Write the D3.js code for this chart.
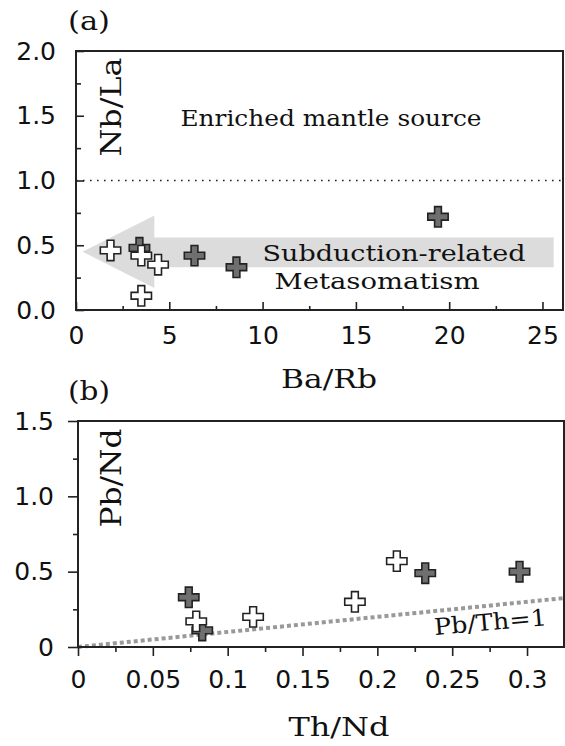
<!DOCTYPE html>
<html>
<head>
<meta charset="utf-8">
<script src="https://cdn.jsdelivr.net/npm/d3@7"></script>
<style>
  body { margin: 0; background: #fff; }
  svg { display: block; }
  .tick text { font-family: "DejaVu Sans", sans-serif; font-size: 25px; fill: #111; }
  .lab { font-family: "DejaVu Serif", serif; fill: #111; }
</style>
</head>
<body>
<div id="chart"></div>
<script>
// panel (a): Ba/Rb vs Nb/La
var baRbOpen = [1.85, 3.5, 4.4, 3.5];
var nbLaOpen = [0.46, 0.42, 0.35, 0.11];
var baRbDark = [3.4, 6.35, 8.6, 19.4];
var nbLaDark = [0.48, 0.42, 0.33, 0.72];
var aXTicks = [0, 5, 10, 15, 20, 25];
var aYTicks = [0, 0.5, 1, 1.5, 2];
var aYLabels = ['0.0', '0.5', '1.0', '1.5', '2.0'];
// shaded arrow, in data units
var arrowX = [0.35, 4.2, 4.2, 25.6, 25.6, 4.2, 4.2];
var arrowY = [0.45, 0.73, 0.56, 0.56, 0.33, 0.33, 0.17];

// panel (b): Th/Nd vs Pb/Nd
var thNdOpen = [0.079, 0.117, 0.185, 0.213];
var pbNdOpen = [0.17, 0.20, 0.30, 0.57];
var thNdDark = [0.074, 0.083, 0.232, 0.295];
var pbNdDark = [0.33, 0.11, 0.49, 0.50];
var bXTicks = [0, 0.05, 0.1, 0.15, 0.2, 0.25, 0.3];
var bXLabels = ['0', '0.05', '0.1', '0.15', '0.2', '0.25', '0.3'];
var bYTicks = [0, 0.5, 1, 1.5];
var bYLabels = ['0', '0.5', '1.0', '1.5'];

var w = 565, h = 746;
var svg = d3.select('#chart').append('svg')
    .attr('width', w)
    .attr('height', h);

var cross = d3.symbol().type(d3.symbolCross).size(230);

function label(g, txt, x, y, size, len, rot) {
  var t = g.append('text')
      .attr('class', 'lab')
      .attr('font-size', size)
      .attr('text-anchor', 'middle')
      .text(txt);
  if (len) t.attr('textLength', len).attr('lengthAdjust', 'spacingAndGlyphs');
  if (rot) t.attr('transform', 'translate(' + x + ',' + y + ') rotate(' + rot + ')');
  else t.attr('x', x).attr('y', y);
  return t;
}

function drawPoints(g, x, y, xs, ys, fill) {
  g.append('g').selectAll('path')
    .data(xs)
    .enter()
    .append('path')
    .attr('d', cross)
    .attr('transform', function(d, i) { return 'translate(' + x(d) + ',' + y(ys[i]) + ')'; })
    .attr('fill', fill)
    .attr('stroke', '#222')
    .attr('stroke-width', 1.6);
}

function styleAxis(g) {
  g.select('.domain').remove();
  g.selectAll('.tick line').attr('stroke', '#222').attr('stroke-width', 1.6);
}

// ---------- panel (a) ----------
var ga = svg.append('g');
var xa = d3.scaleLinear().domain([0, 26.1]).range([76, 563]);
var ya = d3.scaleLinear().domain([0, 2]).range([310, 51]);

ga.append('path')
  .datum(arrowX)
  .attr('d', d3.line().x(function(d) { return xa(d); }).y(function(d, i) { return ya(arrowY[i]); }).curve(d3.curveLinearClosed))
  .attr('fill', '#dcdcdc');

ga.append('line')
  .attr('x1', xa(0)).attr('x2', xa(26.1))
  .attr('y1', ya(1)).attr('y2', ya(1))
  .attr('stroke', '#222').attr('stroke-width', 1.6)
  .attr('stroke-dasharray', '1.6,5.4');

ga.append('g').attr('transform', 'translate(0,310)')
  .call(d3.axisBottom(xa).tickValues(aXTicks).tickSize(-8).tickPadding(16).tickFormat(d3.format('d')))
  .call(styleAxis);
ga.append('g').attr('transform', 'translate(0,310)')
  .call(d3.axisBottom(xa).tickValues([2.5, 7.5, 12.5, 17.5, 22.5]).tickSize(-4).tickFormat(''))
  .call(styleAxis);
ga.append('g').attr('transform', 'translate(76,0)')
  .call(d3.axisLeft(ya).tickValues(aYTicks).tickSize(-8).tickPadding(20).tickFormat(function(d, i) { return aYLabels[i]; }))
  .call(styleAxis);
ga.append('g').attr('transform', 'translate(76,0)')
  .call(d3.axisLeft(ya).tickValues([0.25, 0.75, 1.25, 1.75]).tickSize(-5).tickFormat(''))
  .call(styleAxis);

ga.append('rect')
  .attr('x', 76).attr('y', 51).attr('width', 487).attr('height', 259)
  .attr('fill', 'none').attr('stroke', '#222').attr('stroke-width', 2);

drawPoints(ga, xa, ya, baRbDark, nbLaDark, '#6f6f6f');
drawPoints(ga, xa, ya, baRbOpen, nbLaOpen, '#fff');

label(ga, '(a)', 89, 30, 26, 42);
label(ga, 'Nb/La', 121, 107, 27, 99, -90);
label(ga, 'Enriched mantle source', 331, 126, 23, 301);
label(ga, 'Subduction-related', 394, 261, 23, 263);
label(ga, 'Metasomatism', 377, 289, 23, 205);
label(ga, 'Ba/Rb', 329, 388, 26, 96);

// ---------- panel (b) ----------
var gb = svg.append('g');
var xb = d3.scaleLinear().domain([0, 0.3247]).range([78, 564]);
var yb = d3.scaleLinear().domain([0, 1.5]).range([647, 421]);

gb.append('line')
  .attr('x1', xb(0)).attr('y1', yb(0))
  .attr('x2', xb(0.3247)).attr('y2', yb(0.3247))
  .attr('stroke', '#999').attr('stroke-width', 4)
  .attr('stroke-dasharray', '4,3');

gb.append('g').attr('transform', 'translate(0,647)')
  .call(d3.axisBottom(xb).tickValues(bXTicks).tickSize(9).tickPadding(14).tickFormat(function(d, i) { return bXLabels[i]; }))
  .call(styleAxis);
gb.append('g').attr('transform', 'translate(0,647)')
  .call(d3.axisBottom(xb).tickValues([0.025, 0.075, 0.125, 0.175, 0.225, 0.275]).tickSize(5).tickFormat(''))
  .call(styleAxis);
gb.append('g').attr('transform', 'translate(78,0)')
  .call(d3.axisLeft(yb).tickValues(bYTicks).tickSize(10).tickPadding(14).tickFormat(function(d, i) { return bYLabels[i]; }))
  .call(styleAxis);
gb.append('g').attr('transform', 'translate(78,0)')
  .call(d3.axisLeft(yb).tickValues([0.25, 0.75, 1.25]).tickSize(5).tickFormat(''))
  .call(styleAxis);

gb.append('rect')
  .attr('x', 78).attr('y', 421).attr('width', 486).attr('height', 226)
  .attr('fill', 'none').attr('stroke', '#222').attr('stroke-width', 2);

drawPoints(gb, xb, yb, thNdDark, pbNdDark, '#6f6f6f');
drawPoints(gb, xb, yb, thNdOpen, pbNdOpen, '#fff');

label(gb, '(b)', 89, 400, 26, 42);
label(gb, 'Pb/Nd', 121, 478, 27, 99, -90);
label(gb, 'Pb/Th=1', 491, 630, 23, 113, -5);
label(gb, 'Th/Nd', 339, 736, 26, 101);
</script>
</body>
</html>
